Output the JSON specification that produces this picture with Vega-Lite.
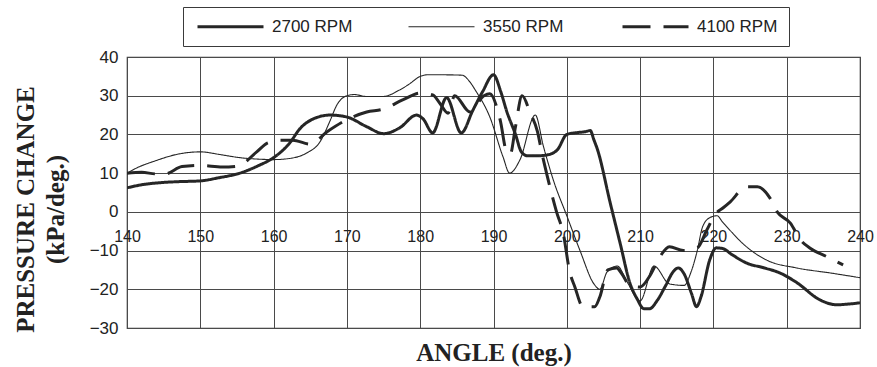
{
  "$schema": "https://vega.github.io/schema/vega-lite/v6.json",
  "width": 733,
  "height": 271,
  "autosize": "none",
  "padding": {"left": 127, "top": 57, "right": 17, "bottom": 39},
  "background": "white",
  "config": {
    "view": {"stroke": "#3a3a3a", "strokeWidth": 1.2},
    "font": "Liberation Sans"
  },
  "datasets": {
    "pressure": [
      {"angle": 140, "p": 6.2, "rpm": "2700 RPM"},
      {"angle": 142, "p": 7.0, "rpm": "2700 RPM"},
      {"angle": 145, "p": 7.6, "rpm": "2700 RPM"},
      {"angle": 147, "p": 7.8, "rpm": "2700 RPM"},
      {"angle": 150, "p": 8.0, "rpm": "2700 RPM"},
      {"angle": 152.5, "p": 8.8, "rpm": "2700 RPM"},
      {"angle": 155.4, "p": 10.0, "rpm": "2700 RPM"},
      {"angle": 158, "p": 12.0, "rpm": "2700 RPM"},
      {"angle": 160, "p": 14.0, "rpm": "2700 RPM"},
      {"angle": 162.2, "p": 17.8, "rpm": "2700 RPM"},
      {"angle": 163.6, "p": 21.5, "rpm": "2700 RPM"},
      {"angle": 165.4, "p": 24.0, "rpm": "2700 RPM"},
      {"angle": 167.7, "p": 25.0, "rpm": "2700 RPM"},
      {"angle": 170, "p": 24.5, "rpm": "2700 RPM"},
      {"angle": 172.7, "p": 22.0, "rpm": "2700 RPM"},
      {"angle": 175, "p": 20.2, "rpm": "2700 RPM"},
      {"angle": 177.2, "p": 21.7, "rpm": "2700 RPM"},
      {"angle": 179.5, "p": 25.0, "rpm": "2700 RPM"},
      {"angle": 180.4, "p": 24.0, "rpm": "2700 RPM"},
      {"angle": 181.7, "p": 20.4, "rpm": "2700 RPM"},
      {"angle": 183.6, "p": 29.5, "rpm": "2700 RPM"},
      {"angle": 185.6, "p": 20.4, "rpm": "2700 RPM"},
      {"angle": 187.2, "p": 26.3, "rpm": "2700 RPM"},
      {"angle": 188.5, "p": 31.0, "rpm": "2700 RPM"},
      {"angle": 190, "p": 35.4, "rpm": "2700 RPM"},
      {"angle": 191, "p": 31.0, "rpm": "2700 RPM"},
      {"angle": 191.8, "p": 26.0, "rpm": "2700 RPM"},
      {"angle": 193, "p": 20.0, "rpm": "2700 RPM"},
      {"angle": 193.8, "p": 15.5, "rpm": "2700 RPM"},
      {"angle": 194.6, "p": 14.5, "rpm": "2700 RPM"},
      {"angle": 196, "p": 14.5, "rpm": "2700 RPM"},
      {"angle": 197.3, "p": 14.7, "rpm": "2700 RPM"},
      {"angle": 198.7, "p": 16.0, "rpm": "2700 RPM"},
      {"angle": 200, "p": 20.0, "rpm": "2700 RPM"},
      {"angle": 201.5, "p": 20.5, "rpm": "2700 RPM"},
      {"angle": 202.5, "p": 20.7, "rpm": "2700 RPM"},
      {"angle": 203.2, "p": 21.0, "rpm": "2700 RPM"},
      {"angle": 203.7, "p": 18.6, "rpm": "2700 RPM"},
      {"angle": 204.2, "p": 16.0, "rpm": "2700 RPM"},
      {"angle": 205.9, "p": 2.5, "rpm": "2700 RPM"},
      {"angle": 207.3, "p": -8.3, "rpm": "2700 RPM"},
      {"angle": 208.6, "p": -18.3, "rpm": "2700 RPM"},
      {"angle": 209.6, "p": -22.5, "rpm": "2700 RPM"},
      {"angle": 210.5, "p": -25.0, "rpm": "2700 RPM"},
      {"angle": 211.3, "p": -25.0, "rpm": "2700 RPM"},
      {"angle": 212.3, "p": -23.0, "rpm": "2700 RPM"},
      {"angle": 213.5, "p": -19.0, "rpm": "2700 RPM"},
      {"angle": 214.5, "p": -15.5, "rpm": "2700 RPM"},
      {"angle": 215.2, "p": -14.5, "rpm": "2700 RPM"},
      {"angle": 216, "p": -16.0, "rpm": "2700 RPM"},
      {"angle": 217, "p": -21.0, "rpm": "2700 RPM"},
      {"angle": 217.7, "p": -24.5, "rpm": "2700 RPM"},
      {"angle": 218.3, "p": -22.0, "rpm": "2700 RPM"},
      {"angle": 219.5, "p": -12.4, "rpm": "2700 RPM"},
      {"angle": 220.4, "p": -9.3, "rpm": "2700 RPM"},
      {"angle": 221.3, "p": -9.5, "rpm": "2700 RPM"},
      {"angle": 222.5, "p": -11.0, "rpm": "2700 RPM"},
      {"angle": 224.5, "p": -13.2, "rpm": "2700 RPM"},
      {"angle": 227, "p": -14.5, "rpm": "2700 RPM"},
      {"angle": 229.1, "p": -15.8, "rpm": "2700 RPM"},
      {"angle": 231.4, "p": -18.3, "rpm": "2700 RPM"},
      {"angle": 234.5, "p": -22.7, "rpm": "2700 RPM"},
      {"angle": 236.8, "p": -24.0, "rpm": "2700 RPM"},
      {"angle": 238.5, "p": -23.8, "rpm": "2700 RPM"},
      {"angle": 240, "p": -23.5, "rpm": "2700 RPM"},

      {"angle": 140, "p": 10.0, "rpm": "3550 RPM"},
      {"angle": 141.5, "p": 11.5, "rpm": "3550 RPM"},
      {"angle": 143.6, "p": 13.0, "rpm": "3550 RPM"},
      {"angle": 147.2, "p": 15.0, "rpm": "3550 RPM"},
      {"angle": 150, "p": 15.5, "rpm": "3550 RPM"},
      {"angle": 152.7, "p": 14.8, "rpm": "3550 RPM"},
      {"angle": 155.4, "p": 14.0, "rpm": "3550 RPM"},
      {"angle": 158.1, "p": 13.6, "rpm": "3550 RPM"},
      {"angle": 160, "p": 13.5, "rpm": "3550 RPM"},
      {"angle": 162.2, "p": 13.8, "rpm": "3550 RPM"},
      {"angle": 164.5, "p": 15.2, "rpm": "3550 RPM"},
      {"angle": 166.3, "p": 18.0, "rpm": "3550 RPM"},
      {"angle": 167.7, "p": 23.5, "rpm": "3550 RPM"},
      {"angle": 168.6, "p": 27.5, "rpm": "3550 RPM"},
      {"angle": 170, "p": 30.0, "rpm": "3550 RPM"},
      {"angle": 171, "p": 30.3, "rpm": "3550 RPM"},
      {"angle": 172.7, "p": 29.8, "rpm": "3550 RPM"},
      {"angle": 174.9, "p": 29.8, "rpm": "3550 RPM"},
      {"angle": 177.2, "p": 31.5, "rpm": "3550 RPM"},
      {"angle": 178.5, "p": 33.0, "rpm": "3550 RPM"},
      {"angle": 180, "p": 35.0, "rpm": "3550 RPM"},
      {"angle": 181, "p": 35.4, "rpm": "3550 RPM"},
      {"angle": 183, "p": 35.4, "rpm": "3550 RPM"},
      {"angle": 185.7, "p": 35.3, "rpm": "3550 RPM"},
      {"angle": 186.8, "p": 33.5, "rpm": "3550 RPM"},
      {"angle": 187.5, "p": 31.5, "rpm": "3550 RPM"},
      {"angle": 189.5, "p": 24.5, "rpm": "3550 RPM"},
      {"angle": 191.3, "p": 14.2, "rpm": "3550 RPM"},
      {"angle": 192.2, "p": 10.0, "rpm": "3550 RPM"},
      {"angle": 193.6, "p": 13.4, "rpm": "3550 RPM"},
      {"angle": 195.7, "p": 25.0, "rpm": "3550 RPM"},
      {"angle": 196.8, "p": 17.0, "rpm": "3550 RPM"},
      {"angle": 198.2, "p": 8.0, "rpm": "3550 RPM"},
      {"angle": 200, "p": -1.0, "rpm": "3550 RPM"},
      {"angle": 201.8, "p": -10.0, "rpm": "3550 RPM"},
      {"angle": 203.7, "p": -18.6, "rpm": "3550 RPM"},
      {"angle": 204.5, "p": -20.0, "rpm": "3550 RPM"},
      {"angle": 205.5, "p": -15.5, "rpm": "3550 RPM"},
      {"angle": 206.9, "p": -14.0, "rpm": "3550 RPM"},
      {"angle": 208.2, "p": -18.0, "rpm": "3550 RPM"},
      {"angle": 210, "p": -23.0, "rpm": "3550 RPM"},
      {"angle": 211.9, "p": -14.0, "rpm": "3550 RPM"},
      {"angle": 214, "p": -18.6, "rpm": "3550 RPM"},
      {"angle": 216, "p": -19.0, "rpm": "3550 RPM"},
      {"angle": 216.9, "p": -15.8, "rpm": "3550 RPM"},
      {"angle": 217.8, "p": -10.0, "rpm": "3550 RPM"},
      {"angle": 218.5, "p": -4.0, "rpm": "3550 RPM"},
      {"angle": 219.5, "p": -1.5, "rpm": "3550 RPM"},
      {"angle": 220.5, "p": -1.0, "rpm": "3550 RPM"},
      {"angle": 221.2, "p": -2.5, "rpm": "3550 RPM"},
      {"angle": 224.5, "p": -9.0, "rpm": "3550 RPM"},
      {"angle": 227.2, "p": -12.4, "rpm": "3550 RPM"},
      {"angle": 231.4, "p": -14.5, "rpm": "3550 RPM"},
      {"angle": 236, "p": -15.8, "rpm": "3550 RPM"},
      {"angle": 240, "p": -17.0, "rpm": "3550 RPM"},

      {"angle": 140, "p": 10.0, "rpm": "4100 RPM"},
      {"angle": 142, "p": 10.2, "rpm": "4100 RPM"},
      {"angle": 144, "p": 9.8, "rpm": "4100 RPM"},
      {"angle": 145.2, "p": 9.8, "rpm": "4100 RPM"},
      {"angle": 147.5, "p": 11.7, "rpm": "4100 RPM"},
      {"angle": 150, "p": 12.0, "rpm": "4100 RPM"},
      {"angle": 153, "p": 11.6, "rpm": "4100 RPM"},
      {"angle": 155.1, "p": 11.8, "rpm": "4100 RPM"},
      {"angle": 157.7, "p": 15.5, "rpm": "4100 RPM"},
      {"angle": 159.2, "p": 17.8, "rpm": "4100 RPM"},
      {"angle": 161, "p": 18.5, "rpm": "4100 RPM"},
      {"angle": 162.6, "p": 18.5, "rpm": "4100 RPM"},
      {"angle": 165, "p": 17.5, "rpm": "4100 RPM"},
      {"angle": 167.3, "p": 20.7, "rpm": "4100 RPM"},
      {"angle": 170, "p": 23.8, "rpm": "4100 RPM"},
      {"angle": 172.7, "p": 25.8, "rpm": "4100 RPM"},
      {"angle": 174.9, "p": 26.5, "rpm": "4100 RPM"},
      {"angle": 177.6, "p": 28.9, "rpm": "4100 RPM"},
      {"angle": 180, "p": 30.7, "rpm": "4100 RPM"},
      {"angle": 181.7, "p": 30.2, "rpm": "4100 RPM"},
      {"angle": 182.7, "p": 28.0, "rpm": "4100 RPM"},
      {"angle": 183.8, "p": 25.5, "rpm": "4100 RPM"},
      {"angle": 184.7, "p": 30.0, "rpm": "4100 RPM"},
      {"angle": 186.8, "p": 25.8, "rpm": "4100 RPM"},
      {"angle": 188.7, "p": 30.0, "rpm": "4100 RPM"},
      {"angle": 189.5, "p": 30.5, "rpm": "4100 RPM"},
      {"angle": 190.9, "p": 23.8, "rpm": "4100 RPM"},
      {"angle": 191.8, "p": 15.5, "rpm": "4100 RPM"},
      {"angle": 192.3, "p": 15.0, "rpm": "4100 RPM"},
      {"angle": 193, "p": 22.0, "rpm": "4100 RPM"},
      {"angle": 193.9, "p": 30.0, "rpm": "4100 RPM"},
      {"angle": 195, "p": 25.6, "rpm": "4100 RPM"},
      {"angle": 196, "p": 20.7, "rpm": "4100 RPM"},
      {"angle": 196.6, "p": 15.2, "rpm": "4100 RPM"},
      {"angle": 197.3, "p": 9.5, "rpm": "4100 RPM"},
      {"angle": 198.6, "p": 0.0, "rpm": "4100 RPM"},
      {"angle": 199.5, "p": -5.4, "rpm": "4100 RPM"},
      {"angle": 200.4, "p": -15.5, "rpm": "4100 RPM"},
      {"angle": 201.1, "p": -19.4, "rpm": "4100 RPM"},
      {"angle": 202.2, "p": -24.5, "rpm": "4100 RPM"},
      {"angle": 203.8, "p": -24.5, "rpm": "4100 RPM"},
      {"angle": 204.5, "p": -22.0, "rpm": "4100 RPM"},
      {"angle": 205.6, "p": -15.0, "rpm": "4100 RPM"},
      {"angle": 206.8, "p": -14.5, "rpm": "4100 RPM"},
      {"angle": 207.5, "p": -16.0, "rpm": "4100 RPM"},
      {"angle": 208.6, "p": -19.0, "rpm": "4100 RPM"},
      {"angle": 210, "p": -19.4, "rpm": "4100 RPM"},
      {"angle": 211.4, "p": -16.3, "rpm": "4100 RPM"},
      {"angle": 212.7, "p": -11.6, "rpm": "4100 RPM"},
      {"angle": 214, "p": -9.0, "rpm": "4100 RPM"},
      {"angle": 215.9, "p": -10.0, "rpm": "4100 RPM"},
      {"angle": 217.8, "p": -9.3, "rpm": "4100 RPM"},
      {"angle": 219.1, "p": -4.7, "rpm": "4100 RPM"},
      {"angle": 220.3, "p": -0.5, "rpm": "4100 RPM"},
      {"angle": 221.3, "p": 1.0, "rpm": "4100 RPM"},
      {"angle": 222.3, "p": 2.6, "rpm": "4100 RPM"},
      {"angle": 224.5, "p": 6.5, "rpm": "4100 RPM"},
      {"angle": 226, "p": 6.5, "rpm": "4100 RPM"},
      {"angle": 227.7, "p": 3.6, "rpm": "4100 RPM"},
      {"angle": 228.7, "p": 0.0, "rpm": "4100 RPM"},
      {"angle": 230.5, "p": -2.9, "rpm": "4100 RPM"},
      {"angle": 231.9, "p": -7.3, "rpm": "4100 RPM"},
      {"angle": 233.2, "p": -9.4, "rpm": "4100 RPM"},
      {"angle": 235.5, "p": -11.6, "rpm": "4100 RPM"},
      {"angle": 237.7, "p": -13.7, "rpm": "4100 RPM"}
    ]
  },
  "data": {"name": "pressure"},
  "mark": {"type": "line", "interpolate": "monotone", "color": "#262626", "clip": true},
  "encoding": {
    "x": {
      "field": "angle",
      "type": "quantitative",
      "scale": {"domain": [140, 240], "nice": false, "zero": false},
      "axis": {
        "values": [140, 150, 160, 170, 180, 190, 200, 210, 220, 230, 240],
        "offset": -116,
        "domain": false,
        "ticks": false,
        "labelPadding": 16,
        "labelFontSize": 16,
        "labelColor": "#222222",
        "labelFlush": false,
        "labelOverlap": false,
        "grid": true,
        "gridColor": "#4a4a4a",
        "gridWidth": 1,
        "gridOpacity": 1,
        "title": "ANGLE (deg.)",
        "titleFont": "Liberation Serif",
        "titleFontSize": 25,
        "titleFontWeight": "bold",
        "titleColor": "#222222",
        "titleBaseline": "alphabetic",
        "titleY": 148
      }
    },
    "y": {
      "field": "p",
      "type": "quantitative",
      "scale": {"domain": [-30, 40], "nice": false, "zero": false},
      "axis": {
        "values": [-30, -20, -10, 0, 10, 20, 30, 40],
        "domain": false,
        "ticks": false,
        "labelPadding": 9,
        "labelFontSize": 17,
        "labelColor": "#222222",
        "labelOverlap": false,
        "grid": true,
        "gridColor": "#4a4a4a",
        "gridWidth": 1,
        "gridOpacity": 1,
        "title": ["PRESSURE CHANGE", "(kPa/deg.)"],
        "titleFont": "Liberation Serif",
        "titleFontSize": 25,
        "titleFontWeight": "bold",
        "titleColor": "#222222",
        "titleAngle": -90,
        "titleAlign": "center",
        "titleBaseline": "alphabetic",
        "titleLineHeight": 30,
        "titleX": -94,
        "titleY": 152
      }
    },
    "strokeWidth": {
      "field": "rpm",
      "type": "nominal",
      "scale": {"type": "ordinal", "domain": ["2700 RPM", "3550 RPM", "4100 RPM"], "range": [3, 1.1, 3]},
      "legend": {
        "orient": "none", "legendX": 56, "legendY": -50, "direction": "horizontal",
        "title": null, "symbolType": "M-6.6,0H6.6", "symbolSize": 100, "symbolOffset": 28,
        "symbolStrokeColor": "#262626", "labelFontSize": 17, "labelColor": "#222222",
        "labelOffset": 33, "columnPadding": 52, "padding": 11, "strokeColor": "#3a3a3a"
      }
    },
    "strokeDash": {
      "field": "rpm",
      "type": "nominal",
      "scale": {"domain": ["2700 RPM", "3550 RPM", "4100 RPM"], "range": [[1, 0], [1, 0], [28, 13]]},
      "legend": {
        "orient": "none", "legendX": 56, "legendY": -50, "direction": "horizontal",
        "title": null, "symbolType": "M-6.6,0H6.6", "symbolSize": 100, "symbolOffset": 28,
        "symbolStrokeColor": "#262626", "labelFontSize": 17, "labelColor": "#222222",
        "labelOffset": 33, "columnPadding": 52, "padding": 11, "strokeColor": "#3a3a3a"
      }
    }
  }
}
